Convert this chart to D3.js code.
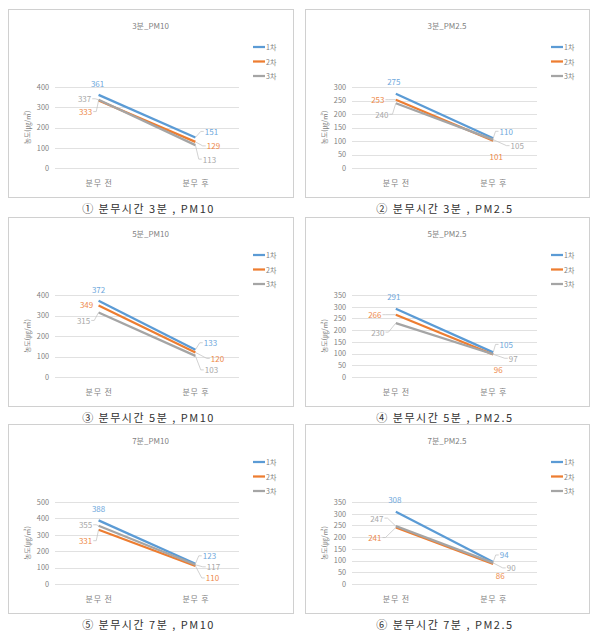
<!DOCTYPE html>
<html><head><meta charset="utf-8">
<script src="https://cdn.jsdelivr.net/npm/d3@7"></script>
<style>
html,body{margin:0;padding:0;background:#fff;}
svg{display:block;font-family:"Noto Sans CJK KR","Noto Sans",sans-serif;}
</style></head>
<body>
<svg id="chart" width="604" height="638"></svg>
<script>
// ---- data ----
const categories = ["분무 전", "분무 후"];
const seriesNames = ["1차", "2차", "3차"];
const panelTitles = ["3분_PM10", "3분_PM2.5", "5분_PM10", "5분_PM2.5", "7분_PM10", "7분_PM2.5"];
const captions = ["① 분무시간 3분 , PM10", "② 분무시간 3분 , PM2.5", "③ 분무시간 5분 , PM10",
                  "④ 분무시간 5분 , PM2.5", "⑤ 분무시간 7분 , PM10", "⑥ 분무시간 7분 , PM2.5"];
const yAxisTitle = "농도(㎍/㎥)";
const yMaxes = [400, 300, 400, 350, 500, 350];
const ySteps = [100, 50, 100, 50, 100, 50];
const series1 = [[361, 151], [275, 110], [372, 133], [291, 105], [388, 123], [308, 94]];
const series2 = [[333, 129], [253, 101], [349, 120], [266, 96], [331, 110], [241, 86]];
const series3 = [[337, 113], [240, 105], [315, 103], [230, 97], [355, 117], [247, 90]];

// ---- layout / style ----
const colors = ["#5B9BD5", "#ED7D31", "#A5A5A5"];
const labelColors = ["#6fa8dc", "#ee8a4a", "#a8a8a8"];
const cols = [{box: [8, 293], grid: [55, 239]}, {box: [305, 589], grid: [352, 537]}];
const rows = [{top: 87, bottom: 168}, {top: 295, bottom: 377}, {top: 502, bottom: 584}];
// label offsets [dx, dy, leader] per panel / series / point
const labelOffsets = [
  [[[-1,-11,0],[16,-6,1]], [[-13,11,1],[18,4,1]], [[-14,-1,1],[14,14,1]]],
  [[[-2,-12,0],[13,-7,1]], [[-18,0,1],[3,16,0]], [[-14,11,1],[24,6,1]]],
  [[[0,-11,0],[15,-7,1]], [[-12,-1,0],[22,6,1]], [[-15,8,1],[16,14,1]]],
  [[[-2,-12,0],[13,-8,1]], [[-21,0,1],[5,15,0]], [[-18,9,1],[20,4,1]]],
  [[[0,-12,0],[14,-8,1]], [[-13,11,1],[17,12,1]], [[-13,-1,1],[18,2,1]]],
  [[[-1,-12,0],[11,-7,1]], [[-21,10,1],[7,12,0]], [[-19,-8,1],[18,5,1]]]
];

const svg = d3.select("#chart");
const allSeries = [series1, series2, series3];

panelTitles.forEach((title, p) => {
  const col = cols[p % 2], row = rows[Math.floor(p / 2)];
  const g = svg.append("g");
  const boxTop = row.top - 78, boxBottom = row.bottom + 29;

  g.append("rect")
    .attr("x", col.box[0] + 0.5).attr("y", boxTop + 0.5)
    .attr("width", col.box[1] - col.box[0]).attr("height", boxBottom - boxTop)
    .attr("fill", "#fff").attr("stroke", "#d0d0d0").attr("stroke-width", 1);

  const x = d3.scalePoint().domain(categories).range(col.grid).padding(0.45);
  const y = d3.scaleLinear().domain([0, yMaxes[p]]).range([row.bottom, row.top]);
  const ticks = d3.range(0, yMaxes[p] + 1, ySteps[p]);

  // grid
  g.append("g").selectAll("line").data(ticks).join("line")
    .attr("x1", col.grid[0]).attr("x2", col.grid[1])
    .attr("y1", d => Math.round(y(d)) + 0.5).attr("y2", d => Math.round(y(d)) + 0.5)
    .attr("stroke", "#d9d9d9").attr("stroke-width", 0.8);

  // y axis
  const ya = g.append("g").attr("transform", `translate(${col.grid[0] - 4},0)`)
    .call(d3.axisLeft(y).tickValues(ticks).tickSize(0).tickPadding(2));
  ya.select(".domain").remove();
  ya.selectAll("text").attr("font-size", 7.3).attr("fill", "#7f7f7f")
    .attr("font-family", "'Noto Sans CJK KR', sans-serif");

  // x axis
  const xa = g.append("g").attr("transform", `translate(0,${row.bottom + 15})`)
    .call(d3.axisBottom(x).tickSize(0).tickPadding(0));
  xa.select(".domain").remove();
  xa.selectAll("text").attr("font-size", 8).attr("letter-spacing", 0.8)
    .attr("fill", "#7f7f7f").attr("dy", "0.35em")
    .attr("font-family", "'Noto Sans CJK KR', sans-serif");

  // y title
  g.append("text")
    .attr("transform", `translate(${col.grid[0] - 28},${(row.top + row.bottom) / 2}) rotate(-90)`)
    .attr("text-anchor", "middle").attr("dominant-baseline", "central")
    .attr("font-size", 6.8).attr("fill", "#7f7f7f").text(yAxisTitle);

  // title
  g.append("text")
    .attr("x", (col.box[0] + col.box[1]) / 2).attr("y", row.top - 62)
    .attr("text-anchor", "middle").attr("dominant-baseline", "central")
    .attr("font-size", 8).attr("fill", "#7f7f7f").text(title);

  // legend
  seriesNames.forEach((s, i) => {
    const ly = row.top - 40 + i * 14.5;
    const lx = col.grid[1] + 14;
    g.append("line").attr("x1", lx).attr("x2", lx + 12).attr("y1", ly).attr("y2", ly)
      .attr("stroke", colors[i]).attr("stroke-width", 2.25);
    g.append("text").attr("x", lx + 13).attr("y", ly).attr("dominant-baseline", "central")
      .attr("font-size", 7).attr("fill", "#7f7f7f").text(s);
  });

  // lines
  const line = d3.line().x((d, j) => x(categories[j])).y(d => y(d));
  allSeries.forEach((ser, i) => {
    g.append("path").datum(ser[p]).attr("d", line)
      .attr("fill", "none").attr("stroke", colors[i]).attr("stroke-width", 2.25);
  });

  // data labels
  const leaderG = g.append("g");
  const labelG = g.append("g");
  allSeries.forEach((ser, i) => {
    ser[p].forEach((v, j) => {
      const px = x(categories[j]), py = y(v);
      const [dx, dy, leader] = labelOffsets[p][i][j];
      const lx = px + dx, ly = py + dy;
      const t = labelG.append("text").attr("x", lx).attr("y", ly)
        .attr("text-anchor", "middle").attr("dominant-baseline", "central")
        .attr("font-size", 8).attr("fill", labelColors[i]).text(v);
      if (leader) {
        const hw = t.node().getComputedTextLength() / 2;
        const sgn = dx < 0 ? 1 : -1; // direction toward point
        const ex = lx + sgn * (hw + 1);
        const sx = ex + sgn * 3;
        leaderG.append("path")
          .attr("d", `M${ex},${ly}L${sx},${ly}L${px},${py}`)
          .attr("fill", "none").attr("stroke", "#bfbfbf").attr("stroke-width", 0.7);
      }
    });
  });

  // caption
  svg.append("text")
    .attr("x", (col.box[0] + col.box[1]) / 2 - 2).attr("y", row.bottom + 40)
    .attr("text-anchor", "middle").attr("dominant-baseline", "central")
    .attr("font-size", 11).attr("letter-spacing", 1.5).attr("fill", "#333")
    .text(captions[p]);
});
</script>
</body></html>
